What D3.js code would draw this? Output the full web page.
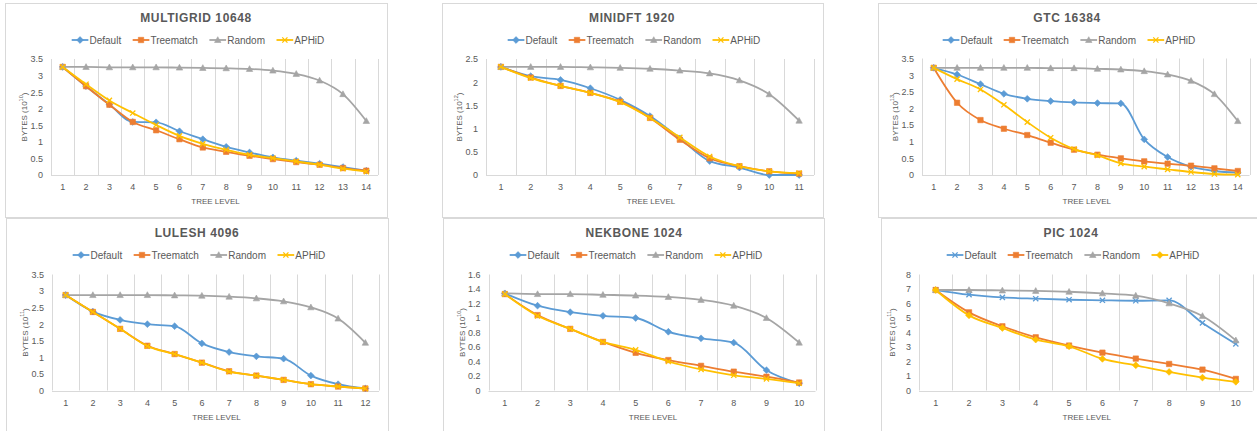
<!DOCTYPE html>
<html>
<head>
<meta charset="utf-8">
<script src="https://cdn.jsdelivr.net/npm/d3@7"></script>
<style>
  html, body { margin: 0; padding: 0; background: #fff; }
  svg { display: block; font-family: "Liberation Sans", Arial, sans-serif; }
</style>
</head>
<body>
<svg id="chart" width="1257" height="431"></svg>
<script>
// ---------- DATA ----------
const seriesNames = ["Default", "Treematch", "Random", "APHiD"];
const seriesColors = ["#5B9BD5", "#ED7D31", "#A5A5A5", "#FFC000"];

const chartTitles = ["MULTIGRID 10648", "MINIDFT 1920", "GTC 16384", "LULESH 4096", "NEKBONE 1024", "PIC 1024"];
const chartExponents = ["10", "12", "13", "11", "10", "11"];

const multigridLevels = [1, 2, 3, 4, 5, 6, 7, 8, 9, 10, 11, 12, 13, 14];
const multigridTicks = [0, 0.5, 1, 1.5, 2, 2.5, 3, 3.5];
const mgDefault   = [3.26, 2.68, 2.13, 1.60, 1.59, 1.32, 1.08, 0.85, 0.68, 0.53, 0.43, 0.34, 0.24, 0.13];
const mgTreematch = [3.26, 2.68, 2.12, 1.60, 1.35, 1.08, 0.83, 0.70, 0.58, 0.48, 0.39, 0.31, 0.21, 0.13];
const mgRandom    = [3.26, 3.26, 3.25, 3.25, 3.25, 3.24, 3.23, 3.22, 3.20, 3.15, 3.05, 2.85, 2.44, 1.63];
const mgAphid     = [3.26, 2.74, 2.25, 1.87, 1.51, 1.18, 0.94, 0.76, 0.61, 0.51, 0.41, 0.31, 0.19, 0.10];

const minidftLevels = [1, 2, 3, 4, 5, 6, 7, 8, 9, 10, 11];
const minidftTicks = [0, 0.5, 1, 1.5, 2, 2.5];
const dftDefault   = [2.33, 2.13, 2.05, 1.87, 1.62, 1.27, 0.79, 0.30, 0.16, 0.00, 0.00];
const dftTreematch = [2.33, 2.10, 1.92, 1.77, 1.58, 1.23, 0.76, 0.36, 0.19, 0.08, 0.03];
const dftRandom    = [2.33, 2.33, 2.33, 2.32, 2.31, 2.29, 2.25, 2.19, 2.04, 1.74, 1.17];
const dftAphid     = [2.33, 2.09, 1.92, 1.77, 1.57, 1.23, 0.81, 0.40, 0.19, 0.08, 0.04];

const gtcLevels = [1, 2, 3, 4, 5, 6, 7, 8, 9, 10, 11, 12, 13, 14];
const gtcTicks = [0, 0.5, 1, 1.5, 2, 2.5, 3, 3.5];
const gtcDefault   = [3.22, 3.02, 2.73, 2.44, 2.29, 2.22, 2.18, 2.16, 2.15, 1.07, 0.54, 0.25, 0.12, 0.07];
const gtcTreematch = [3.22, 2.17, 1.65, 1.39, 1.20, 0.97, 0.76, 0.61, 0.50, 0.41, 0.34, 0.28, 0.20, 0.12];
const gtcRandom    = [3.22, 3.22, 3.22, 3.22, 3.22, 3.21, 3.21, 3.19, 3.17, 3.12, 3.02, 2.83, 2.43, 1.62];
const gtcAphid     = [3.22, 2.88, 2.57, 2.11, 1.59, 1.12, 0.78, 0.59, 0.35, 0.25, 0.17, 0.09, 0.03, 0.01];

const luleshLevels = [1, 2, 3, 4, 5, 6, 7, 8, 9, 10, 11, 12];
const luleshTicks = [0, 0.5, 1, 1.5, 2, 2.5, 3, 3.5];
const luDefault   = [2.88, 2.38, 2.13, 2.00, 1.94, 1.42, 1.16, 1.03, 0.96, 0.45, 0.19, 0.06];
const luTreematch = [2.88, 2.37, 1.86, 1.35, 1.10, 0.84, 0.58, 0.45, 0.32, 0.19, 0.12, 0.06];
const luRandom    = [2.88, 2.88, 2.88, 2.88, 2.87, 2.86, 2.83, 2.78, 2.69, 2.51, 2.17, 1.44];
const luAphid     = [2.88, 2.37, 1.86, 1.34, 1.10, 0.84, 0.57, 0.45, 0.32, 0.19, 0.12, 0.06];

const nekboneLevels = [1, 2, 3, 4, 5, 6, 7, 8, 9, 10];
const nekboneTicks = [0, 0.2, 0.4, 0.6, 0.8, 1, 1.2, 1.4, 1.6];
const nekDefault   = [1.34, 1.17, 1.08, 1.03, 1.00, 0.81, 0.72, 0.66, 0.28, 0.10];
const nekTreematch = [1.33, 1.04, 0.85, 0.67, 0.52, 0.42, 0.34, 0.26, 0.19, 0.11];
const nekRandom    = [1.34, 1.33, 1.33, 1.32, 1.31, 1.29, 1.25, 1.17, 1.00, 0.66];
const nekAphid     = [1.33, 1.03, 0.85, 0.67, 0.56, 0.40, 0.29, 0.21, 0.16, 0.10];

const picLevels = [1, 2, 3, 4, 5, 6, 7, 8, 9, 10];
const picTicks = [0, 1, 2, 3, 4, 5, 6, 7, 8];
const picDefault   = [6.93, 6.61, 6.42, 6.33, 6.26, 6.22, 6.19, 6.22, 4.66, 3.21];
const picTreematch = [6.93, 5.39, 4.43, 3.67, 3.10, 2.61, 2.20, 1.83, 1.44, 0.80];
const picRandom    = [6.93, 6.93, 6.90, 6.87, 6.81, 6.70, 6.54, 6.01, 5.14, 3.46];
const picAphid     = [6.93, 5.18, 4.31, 3.51, 3.05, 2.18, 1.74, 1.28, 0.89, 0.60];

const chartLevels = [multigridLevels, minidftLevels, gtcLevels, luleshLevels, nekboneLevels, picLevels];
const chartTicks = [multigridTicks, minidftTicks, gtcTicks, luleshTicks, nekboneTicks, picTicks];
const chartSeries = [
  [mgDefault, mgTreematch, mgRandom, mgAphid],
  [dftDefault, dftTreematch, dftRandom, dftAphid],
  [gtcDefault, gtcTreematch, gtcRandom, gtcAphid],
  [luDefault, luTreematch, luRandom, luAphid],
  [nekDefault, nekTreematch, nekRandom, nekAphid],
  [picDefault, picTreematch, picRandom, picAphid]
];
const stdMarkers = ["diamond", "square", "triangle", "x"];
const picMarkers = ["x", "square", "triangle", "diamond"];
const chartMarkers = [stdMarkers, stdMarkers, stdMarkers, stdMarkers, stdMarkers, picMarkers];

// ---------- LAYOUT ----------
const layout = [
  { x0: 5.5,   x1: 387.5,  y0: 3.5,   y1: 217.5, cx: 196,  pl: 51,    pr: 378,    pt: 59,    pb: 175 },
  { x0: 442.5, x1: 823.5,  y0: 3.5,   y1: 217.5, cx: 632,  pl: 486,   pr: 814,    pt: 59,    pb: 175 },
  { x0: 878.5, x1: 1262,   y0: 3.5,   y1: 217.5, cx: 1067, pl: 922,   pr: 1249.5, pt: 58.5,  pb: 175 },
  { x0: 6.5,   x1: 388.5,  y0: 218.5, y1: 440,   cx: 197,  pl: 52,    pr: 379,    pt: 274.5, pb: 390.5 },
  { x0: 443.5, x1: 824.5,  y0: 218.5, y1: 440,   cx: 634,  pl: 488.5, pr: 815.5,  pt: 274.5, pb: 390.5 },
  { x0: 881.5, x1: 1262,   y0: 218.5, y1: 440,   cx: 1071, pl: 919,   pr: 1252.5, pt: 274.5, pb: 390.5 }
];

const textColor = "#595959";
const gridColor = "#d9d9d9";

const svg = d3.select("#chart");

function markerPath(type) {
  if (type === "diamond") return "M0,-3.4L3.4,0L0,3.4L-3.4,0Z";
  if (type === "square") return "M-2.7,-2.7H2.7V2.7H-2.7Z";
  if (type === "triangle") return "M0,-3.3L3.2,2.5L-3.2,2.5Z";
  return "M-2.6,-2.6L2.6,2.6M2.6,-2.6L-2.6,2.6";
}

function drawMarker(g, type, color, x, y) {
  const p = g.append("path")
    .attr("d", markerPath(type))
    .attr("transform", `translate(${x},${y})`);
  if (type === "x") {
    p.attr("fill", "none").attr("stroke", color).attr("stroke-width", 1.3);
  } else {
    p.attr("fill", color).attr("stroke", color).attr("stroke-width", 0.6);
  }
}

chartTitles.forEach((title, ci) => {
  const L = layout[ci];
  const levels = chartLevels[ci];
  const ticks = chartTicks[ci];
  const series = chartSeries[ci];
  const markers = chartMarkers[ci];
  const g = svg.append("g");

  // panel border
  g.append("rect")
    .attr("x", L.x0).attr("y", L.y0)
    .attr("width", L.x1 - L.x0).attr("height", L.y1 - L.y0)
    .attr("fill", "#fff").attr("stroke", gridColor).attr("stroke-width", 1);

  // title
  g.append("text")
    .attr("x", L.cx).attr("y", L.y0 + 18.5)
    .attr("text-anchor", "middle")
    .attr("font-size", 12).attr("font-weight", "bold")
    .attr("letter-spacing", 0.6)
    .attr("fill", textColor)
    .text(title);

  // scales
  const x = d3.scaleBand().domain(levels).range([L.pl, L.pr]).paddingInner(0).paddingOuter(0);
  const y = d3.scaleLinear().domain([0, ticks[ticks.length - 1]]).range([L.pb, L.pt]);

  // vertical gridlines at category boundaries
  const bounds = levels.map(d => x(d)).concat([x(levels[levels.length - 1]) + x.bandwidth()]);
  g.append("g").selectAll("line").data(bounds).join("line")
    .attr("x1", d => Math.round(d) + 0.5).attr("x2", d => Math.round(d) + 0.5)
    .attr("y1", L.pt).attr("y2", L.pb)
    .attr("stroke", gridColor).attr("stroke-width", 1);

  // x axis line
  g.append("line")
    .attr("x1", L.pl).attr("x2", L.pr)
    .attr("y1", Math.round(L.pb) + 0.5).attr("y2", Math.round(L.pb) + 0.5)
    .attr("stroke", gridColor).attr("stroke-width", 1);

  // x axis labels
  const xAxis = g.append("g")
    .attr("transform", `translate(0,${L.pb})`)
    .call(d3.axisBottom(x).tickSize(0).tickPadding(9));
  xAxis.select(".domain").remove();
  xAxis.selectAll("text").attr("font-size", 9).attr("fill", textColor).attr("font-family", null);

  // y axis labels
  const yAxis = g.append("g")
    .attr("transform", `translate(${L.pl},0)`)
    .call(d3.axisLeft(y).tickValues(ticks).tickSize(0).tickPadding(8).tickFormat(d3.format("~g")));
  yAxis.select(".domain").remove();
  yAxis.selectAll("text").attr("font-size", 9).attr("fill", textColor).attr("font-family", null);

  // axis titles
  g.append("text")
    .attr("x", (L.pl + L.pr) / 2 + 1).attr("y", L.pb + 29)
    .attr("text-anchor", "middle")
    .attr("font-size", 8).attr("fill", textColor)
    .text("TREE LEVEL");

  const yt = g.append("text")
    .attr("transform", `translate(${L.pl - 27},${(L.pt + L.pb) / 2}) rotate(-90)`)
    .attr("text-anchor", "middle")
    .attr("dominant-baseline", "central")
    .attr("font-size", 8).attr("fill", textColor);
  yt.append("tspan").text("BYTES (10");
  yt.append("tspan").attr("font-size", 5.5).attr("dy", -3).text(chartExponents[ci]);
  yt.append("tspan").attr("dy", 3).text(")");

  // series
  const line = d3.line()
    .x((d, i) => x(levels[i]) + x.bandwidth() / 2)
    .y(d => y(d))
    .curve(d3.curveMonotoneX);

  series.forEach((vals, si) => {
    const sg = g.append("g");
    sg.append("path")
      .attr("d", line(vals))
      .attr("fill", "none")
      .attr("stroke", seriesColors[si])
      .attr("stroke-width", 1.8)
      .attr("stroke-linejoin", "round");
    vals.forEach((v, i) => {
      drawMarker(sg, markers[si], seriesColors[si], x(levels[i]) + x.bandwidth() / 2, y(v));
    });
  });

  // legend
  const lg = g.append("g");
  const items = [];
  let cursor = 0;
  seriesNames.forEach((name, si) => {
    const ig = lg.append("g").attr("transform", `translate(${cursor},0)`);
    ig.append("line").attr("x1", 0).attr("x2", 16.7).attr("y1", 0).attr("y2", 0)
      .attr("stroke", seriesColors[si]).attr("stroke-width", 1.8);
    drawMarker(ig, markers[si], seriesColors[si], 8.35, 0);
    const t = ig.append("text").attr("x", 17.8).attr("y", 0)
      .attr("dy", "0.35em")
      .attr("font-size", 10).attr("fill", textColor).text(name);
    const w = 17.8 + t.node().getComputedTextLength();
    cursor += w + 11.5;
  });
  const totalW = cursor - 11.5;
  lg.attr("transform", `translate(${L.cx + 2 - totalW / 2},${L.y0 + 36.5})`);
});
</script>
</body>
</html>
